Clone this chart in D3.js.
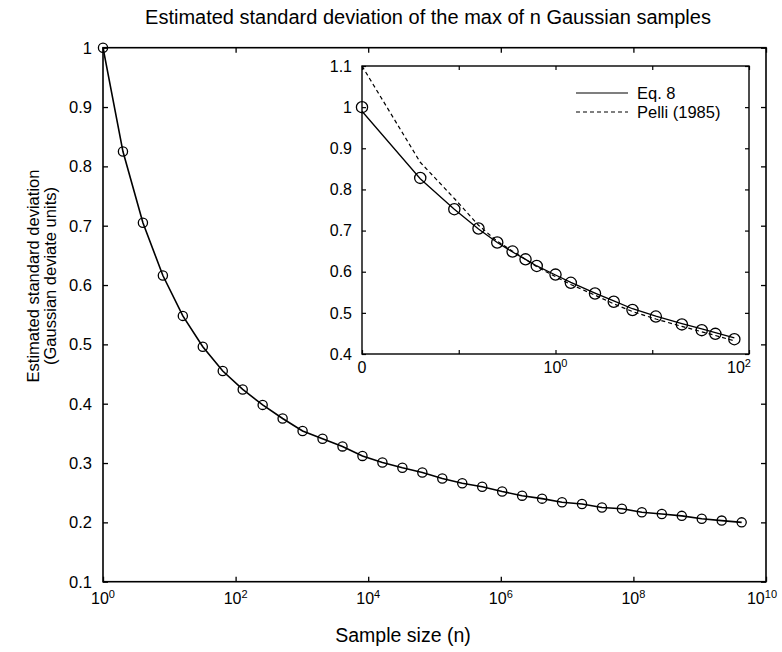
<!DOCTYPE html>
<html>
<head>
<meta charset="utf-8">
<script src="https://cdn.jsdelivr.net/npm/d3@7"></script>
<style>
  body { margin: 0; background: #fff; }
  text { font-family: "Liberation Sans", Arial, sans-serif; fill: #000; }
</style>
</head>
<body>
<div id="chart"></div>
<script>
/* sd of the max of n gaussian samples, main plot + small-n inset */

// main panel: n = 2^k
const mainExp = [0,1,2,3,4,5,6,7,8,9,10,11,12,13,14,15,16,17,18,19,20,21,22,23,24,25,26,27,28,29,30,31,32];
const mainSd = [1.0,0.825,0.705,0.616,0.548,0.496,0.455,0.424,0.398,0.375,0.354,0.341,0.328,0.312,0.301,0.292,
                0.284,0.274,0.266,0.260,0.252,0.245,0.240,0.234,0.231,0.225,0.223,0.217,0.214,0.211,0.206,0.203,0.200];
const mainXTicks = [1e0,1e2,1e4,1e6,1e8,1e10];
const mainXExp = ["0","2","4","6","8","10"];
const mainYTicks = [0.1,0.2,0.3,0.4,0.5,0.6,0.7,0.8,0.9,1];

// inset: small n
const insetN = [1,2,3,4,5,6,7,8,10,12,16,20,25,33,45,57,67,84];
const insetSim = [1.0,0.828,0.752,0.705,0.671,0.649,0.630,0.614,0.593,0.573,0.547,0.527,0.507,0.491,0.472,0.458,0.449,0.436];
const insetEq8 = [0.99,0.826,0.752,0.704,0.671,0.648,0.630,0.614,0.592,0.574,0.548,0.529,0.510,0.492,0.474,0.461,0.452,0.439];
const insetPelli = [1.10,0.866,0.778,0.713,0.674,0.650,0.630,0.612,0.588,0.569,0.543,0.522,0.503,0.485,0.467,0.454,0.445,0.432];
const insetXTicks = [1,3.162,10,31.62,100];
const insetXLabelVals = [1,10,100];
const insetXLabels = [["0",""],["10","0"],["10","2"]];
const insetYTicks = [0.4,0.5,0.6,0.7,0.8,0.9,1,1.1];
const insetYLabels = ["0.4","0.5","0.6","0.7","0.8","0.9","1","1.1"];

const width = 782, height = 652;

let svg = d3.select("#chart")
    .append("svg")
    .attr("width", width)
    .attr("height", height);

// ---------- main panel ----------
const m = {left: 103, right: 766, top: 47.7, bottom: 581.7};

let x = d3.scaleLog().domain([1, 1e10]).range([m.left, m.right]);
let y = d3.scaleLinear().domain([0.1, 1]).range([m.bottom, m.top]);

const tick = 5;

svg.append("g").attr("transform", `translate(0,${m.bottom})`)
    .call(d3.axisBottom(x).tickValues(mainXTicks).tickSize(-tick).tickFormat(""));
svg.append("g").attr("transform", `translate(0,${m.top})`)
    .call(d3.axisTop(x).tickValues(mainXTicks).tickSize(-tick).tickFormat(""));
svg.append("g").attr("transform", `translate(${m.left},0)`)
    .call(d3.axisLeft(y).tickValues(mainYTicks).tickSize(-tick).tickFormat(""));
svg.append("g").attr("transform", `translate(${m.right},0)`)
    .call(d3.axisRight(y).tickValues(mainYTicks).tickSize(-tick).tickFormat(""));
svg.selectAll(".domain").remove();
svg.selectAll(".tick line").attr("stroke", "#000").attr("stroke-width", 1.3);

svg.append("rect")
    .attr("x", m.left).attr("y", m.top)
    .attr("width", m.right - m.left).attr("height", m.bottom - m.top)
    .attr("fill", "none").attr("stroke", "#000").attr("stroke-width", 1.6);

// tick labels
svg.selectAll(".ylab")
    .data(mainYTicks)
    .join("text")
    .attr("class", "ylab")
    .attr("x", m.left - 11)
    .attr("y", d => y(d))
    .attr("dy", "0.36em")
    .attr("text-anchor", "end")
    .attr("font-size", 16.5)
    .text(d => d3.format("~g")(d));

let xl = svg.selectAll(".xlab")
    .data(mainXTicks)
    .join("text")
    .attr("class", "xlab")
    .attr("x", (d, i) => x(d) - (i == 5 ? 4 : 0))
    .attr("y", m.bottom + 22)
    .attr("text-anchor", "middle")
    .attr("font-size", 16);
xl.append("tspan").text("10");
xl.append("tspan").attr("dy", -6).attr("font-size", 11).text((d, i) => mainXExp[i]);

// curve + circles
let mainData = mainExp.map((k, i) => ({n: 2 ** k, v: mainSd[i]}));

svg.append("path")
    .datum(mainData)
    .attr("fill", "none")
    .attr("stroke", "#000")
    .attr("stroke-width", 1.6)
    .attr("d", d3.line().x(d => x(d.n)).y(d => y(d.v)));

svg.selectAll(".dot")
    .data(mainData)
    .join("circle")
    .attr("class", "dot")
    .attr("cx", d => x(d.n))
    .attr("cy", d => y(d.v))
    .attr("r", 4.6)
    .attr("fill", "none")
    .attr("stroke", "#000")
    .attr("stroke-width", 1.3);

// titles
svg.append("text")
    .attr("x", 428).attr("y", 24)
    .attr("text-anchor", "middle")
    .attr("font-size", 20)
    .text("Estimated standard deviation of the max of n Gaussian samples");

svg.append("text")
    .attr("x", 403).attr("y", 642)
    .attr("text-anchor", "middle")
    .attr("font-size", 19.5)
    .text("Sample size (n)");

let ylab = svg.append("g").attr("transform", "translate(0,276) rotate(-90)");
ylab.append("text").attr("x", 0).attr("y", 39)
    .attr("text-anchor", "middle").attr("font-size", 16.5)
    .text("Estimated standard deviation");
ylab.append("text").attr("x", 0).attr("y", 56)
    .attr("text-anchor", "middle").attr("font-size", 16.5)
    .text("(Gaussian deviate units)");

// ---------- inset ----------
const s = {left: 362, right: 749, top: 66, bottom: 354};

let xi = d3.scaleLog().domain([1, 100]).range([s.left, s.right]);
let yi = d3.scaleLinear().domain([0.4, 1.1]).range([s.bottom, s.top]);

let inset = svg.append("g").attr("class", "inset");

inset.append("rect")
    .attr("x", s.left).attr("y", s.top)
    .attr("width", s.right - s.left).attr("height", s.bottom - s.top)
    .attr("fill", "#fff").attr("stroke", "#000").attr("stroke-width", 1.4);

const itick = 4;
inset.append("g").attr("transform", `translate(0,${s.bottom})`)
    .call(d3.axisBottom(xi).tickValues(insetXTicks).tickSize(-itick).tickFormat(""));
inset.append("g").attr("transform", `translate(0,${s.top})`)
    .call(d3.axisTop(xi).tickValues(insetXTicks).tickSize(-itick).tickFormat(""));
inset.append("g").attr("transform", `translate(${s.left},0)`)
    .call(d3.axisLeft(yi).tickValues(insetYTicks).tickSize(-itick).tickFormat(""));
inset.append("g").attr("transform", `translate(${s.right},0)`)
    .call(d3.axisRight(yi).tickValues(insetYTicks).tickSize(-itick).tickFormat(""));
inset.selectAll(".domain").remove();
inset.selectAll(".tick line").attr("stroke", "#000").attr("stroke-width", 1.2);

inset.selectAll(".iylab")
    .data(insetYTicks)
    .join("text")
    .attr("class", "iylab")
    .attr("x", s.left - 10)
    .attr("y", d => yi(d))
    .attr("dy", "0.36em")
    .attr("text-anchor", "end")
    .attr("font-size", 16)
    .text((d, i) => insetYLabels[i]);

let ixl = inset.selectAll(".ixlab")
    .data(insetXLabelVals)
    .join("text")
    .attr("class", "ixlab")
    .attr("x", (d, i) => xi(d) - (i == 2 ? 10 : 0))
    .attr("y", s.bottom + 19)
    .attr("text-anchor", "middle")
    .attr("font-size", 16);
ixl.append("tspan").text((d, i) => insetXLabels[i][0]);
ixl.append("tspan").attr("dy", -6).attr("font-size", 11).text((d, i) => insetXLabels[i][1]);

let line = d3.line().x(d => xi(d.n)).y(d => yi(d.v));

inset.append("path")
    .datum(insetN.map((n, i) => ({n: n, v: insetPelli[i]})))
    .attr("fill", "none")
    .attr("stroke", "#000")
    .attr("stroke-width", 1.2)
    .attr("stroke-dasharray", "4,3")
    .attr("d", line);

inset.append("path")
    .datum(insetN.map((n, i) => ({n: n, v: insetEq8[i]})))
    .attr("fill", "none")
    .attr("stroke", "#000")
    .attr("stroke-width", 1.3)
    .attr("d", line);

inset.selectAll(".idot")
    .data(insetN.map((n, i) => ({n: n, v: insetSim[i]})))
    .join("circle")
    .attr("class", "idot")
    .attr("cx", d => xi(d.n))
    .attr("cy", d => yi(d.v))
    .attr("r", 5.6)
    .attr("fill", "none")
    .attr("stroke", "#000")
    .attr("stroke-width", 1.3);

// legend
const legend = [{label: "Eq. 8", dash: null, y: 93}, {label: "Pelli (1985)", dash: "4,3", y: 112}];
let lg = inset.selectAll(".leg")
    .data(legend)
    .join("g")
    .attr("class", "leg");
lg.append("line")
    .attr("x1", 576).attr("x2", 628)
    .attr("y1", d => d.y).attr("y2", d => d.y)
    .attr("stroke", "#000")
    .attr("stroke-width", 1.2)
    .attr("stroke-dasharray", d => d.dash);
lg.append("text")
    .attr("x", 637)
    .attr("y", d => d.y)
    .attr("dy", "0.36em")
    .attr("font-size", 16.5)
    .text(d => d.label);
</script>
</body>
</html>
